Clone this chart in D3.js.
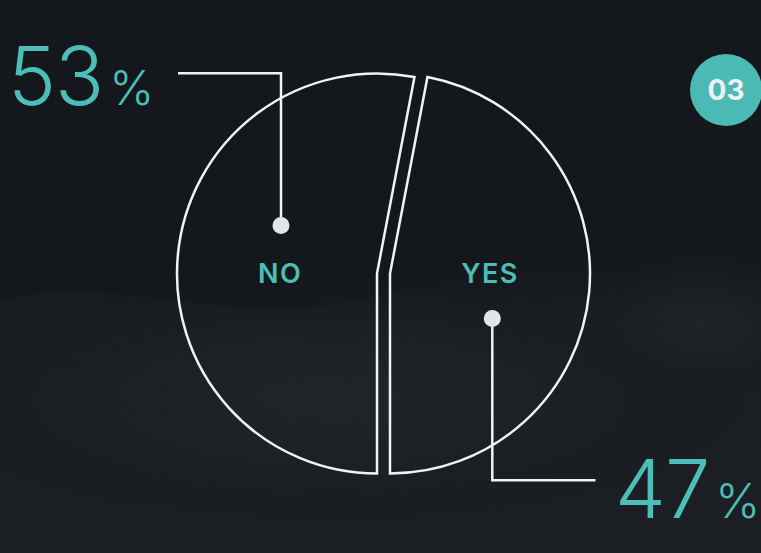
<!DOCTYPE html>
<html>
<head>
<meta charset="utf-8">
<script src="https://cdn.jsdelivr.net/npm/d3@7"></script>
<style>
  html, body { margin: 0; padding: 0; background: #13171b; }
  svg { display: block; }
</style>
</head>
<body>
<svg id="chart" width="761" height="553"></svg>
<script>
// ---- data ----
const categories = ["NO", "YES"];
const values = [53, 47];
const valueLabels = ["53", "47"];
const badgeLabel = "03";

const W = 761, H = 553;
const svg = d3.select("#chart");
const teal = "#4dbdb7";
const lineCol = "#f1f2f4";
const dotCol = "#e3e5ea";

// ---- background ----
const defs = svg.append("defs");
const g1 = defs.append("radialGradient").attr("id", "bgGlow")
  .attr("cx", 0.5).attr("cy", 0.5).attr("r", 0.5);
g1.append("stop").attr("offset", "0%").attr("stop-color", "#23272c").attr("stop-opacity", 1);
g1.append("stop").attr("offset", "55%").attr("stop-color", "#1d2125").attr("stop-opacity", 0.7);
g1.append("stop").attr("offset", "100%").attr("stop-color", "#14181c").attr("stop-opacity", 0);
const lg = defs.append("linearGradient").attr("id", "band").attr("x1", 0).attr("y1", 0).attr("x2", 0).attr("y2", 1);
lg.append("stop").attr("offset", "0%").attr("stop-color", "#14181c").attr("stop-opacity", 0);
lg.append("stop").attr("offset", "25%").attr("stop-color", "#1c2024").attr("stop-opacity", 0.8);
lg.append("stop").attr("offset", "100%").attr("stop-color", "#1c2024").attr("stop-opacity", 0.9);

svg.append("rect").attr("width", W).attr("height", H).attr("fill", "#14181c");
const bg = svg.append("g");
bg.append("path")
  .attr("d", "M0,300 C120,270 220,330 360,300 C480,275 560,250 761,240 L761,553 L0,553 Z")
  .attr("fill", "url(#band)");
bg.append("ellipse").attr("cx", 330).attr("cy", 400).attr("rx", 420).attr("ry", 130).attr("fill", "url(#bgGlow)").attr("opacity", 0.8);
bg.append("ellipse").attr("cx", 700).attr("cy", 320).attr("rx", 130).attr("ry", 80).attr("fill", "url(#bgGlow)").attr("opacity", 0.6);

// ---- pie ----
const cx = 383.5, cy = 273.5, R = 200, explode = 6.5;
const pie = d3.pie().sort(null).startAngle(Math.PI).endAngle(3 * Math.PI);
const arcs = pie(values);
const arcGen = d3.arc().innerRadius(0).outerRadius(R);

const gPie = svg.append("g").attr("transform", `translate(${cx},${cy})`);
gPie.selectAll("path.slice")
  .data(arcs)
  .join("path")
  .attr("class", "slice")
  .attr("d", arcGen)
  .attr("transform", d => {
    const c = arcGen.centroid(d);
    return `translate(${c[0] < 0 ? -explode : explode},0)`;
  })
  .attr("fill", "none")
  .attr("stroke", lineCol)
  .attr("stroke-width", 2.5)
  .attr("stroke-linejoin", "miter");

// ---- labels inside ----
const labelPos = [[-103.5, 9], [106.5, 9]];
gPie.selectAll("text.cat")
  .data(categories)
  .join("text")
  .attr("class", "cat")
  .attr("x", (d, i) => labelPos[i][0])
  .attr("y", (d, i) => labelPos[i][1])
  .attr("text-anchor", "middle")
  .attr("font-family", "Inter, 'Open Sans', sans-serif")
  .attr("font-weight", 600)
  .attr("font-size", 27)
  .attr("letter-spacing", 1.5)
  .attr("fill", teal)
  .text(d => d);

// ---- callouts ----
const dotPos = [[-102.5, -48], [108.8, 45]];
const callouts = [
  [[-102.5, -48], [-102.5, -200.2], [-205.5, -200.2]],
  [[108.8, 45], [108.8, 206.8], [212, 206.8]]
];
gPie.selectAll("path.callout")
  .data(callouts)
  .join("path")
  .attr("class", "callout")
  .attr("d", d3.line())
  .attr("fill", "none")
  .attr("stroke", lineCol)
  .attr("stroke-width", 2.5)
  .attr("stroke-linejoin", "miter");
gPie.selectAll("circle.dot")
  .data(dotPos)
  .join("circle")
  .attr("class", "dot")
  .attr("cx", d => d[0])
  .attr("cy", d => d[1])
  .attr("r", 8.5)
  .attr("fill", dotCol);

// ---- big percentage labels ----
const pctPos = [[8, 105], [615, 518]];
svg.selectAll("text.pct")
  .data(valueLabels)
  .join("text")
  .attr("class", "pct")
  .attr("x", (d, i) => pctPos[i][0])
  .attr("y", (d, i) => pctPos[i][1])
  .attr("font-family", "Inter, 'Open Sans', sans-serif")
  .attr("font-weight", 300)
  .attr("fill", teal)
  .each(function(d) {
    const t = d3.select(this);
    t.append("tspan").attr("font-size", 81).attr("letter-spacing", -1).text(d);
    t.append("tspan").attr("font-size", 48).attr("dx", 6).text("%");
  });

// ---- badge ----
const badge = svg.append("g").attr("transform", "translate(726,90)");
badge.append("circle").attr("r", 36).attr("fill", "#4bbab4");
badge.append("text")
  .attr("text-anchor", "middle")
  .attr("y", 10)
  .attr("font-family", "Inter, 'Open Sans', sans-serif")
  .attr("font-weight", 700)
  .attr("font-size", 28)
  .attr("fill", "#eef2f3")
  .text(badgeLabel);
</script>
</body>
</html>
